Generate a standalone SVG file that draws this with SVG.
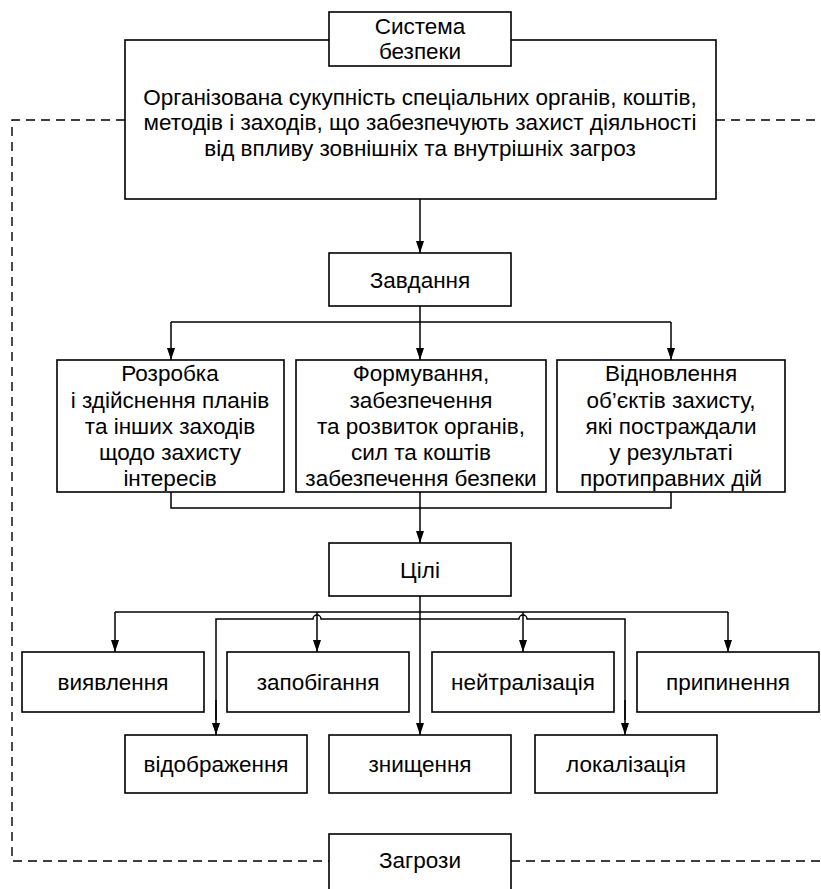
<svg xmlns="http://www.w3.org/2000/svg" width="821" height="889" viewBox="0 0 821 889">
<defs>
<marker id="arr" viewBox="0 0 12 8" refX="12" refY="4" markerWidth="12" markerHeight="8" markerUnits="userSpaceOnUse" orient="auto">
<path d="M0,0 L12,4 L0,8 z" fill="#000"/>
</marker>
</defs>
<style>
.box{fill:#fff;stroke:#000;stroke-width:1.6}
.t{font-family:"Liberation Sans",Arial,sans-serif;font-size:22.5px;fill:#000;text-anchor:middle}
.ln{fill:none;stroke:#000;stroke-width:1.5}
.ar{fill:none;stroke:#000;stroke-width:1.5;marker-end:url(#arr)}
.ds{fill:none;stroke:#000;stroke-width:1.4;stroke-dasharray:9 6}
</style>
<rect width="821" height="889" fill="#fff"/>
<g id="connectors">
<path class="ds" d="M125,120 H12 V861 H329"/>
<path class="ds" d="M716,120 H821"/>
<path class="ds" d="M511,861 H821"/>
<path class="ar" d="M420,199 V253"/>
<path class="ln" d="M420,306 V322 M171,322 H671"/>
<path class="ar" d="M171,322 V360"/>
<path class="ar" d="M420,322 V360"/>
<path class="ar" d="M671,322 V360"/>
<path class="ln" d="M171,492 V508 H671 V492"/>
<path class="ar" d="M420,492 V543"/>
<path class="ln" d="M115,612 H728"/>
<path class="ar" d="M115,612 V652"/>
<path class="ar" d="M317,612 V652"/>
<path class="ar" d="M523,612 V652"/>
<path class="ar" d="M728,612 V652"/>
<path class="ar" d="M420,596 V735"/>
<path class="ln" d="M216,720 V619 H313 A4,4 0 0 1 321,619 H519 A4,4 0 0 1 527,619 H625 V720"/>
<path class="ar" d="M216,700 V735"/>
<path class="ar" d="M625,700 V735"/>
</g>
<g id="main">
<rect class="box" x="125" y="40" width="591" height="159"/>
<text class="t" x="420" y="105">Організована сукупність спеціальних органів, коштів,</text>
<text class="t" x="420" y="130">методів і заходів, що забезпечують захист діяльності</text>
<text class="t" x="420" y="156">від впливу зовнішніх та внутрішніх загроз</text>
</g>
<g id="system">
<rect class="box" x="329" y="12" width="182" height="54"/>
<text class="t" x="420" y="34">Система</text>
<text class="t" x="420" y="59">безпеки</text>
</g>
<g id="tasks">
<rect class="box" x="329" y="253" width="182" height="53"/>
<text class="t" x="420" y="288">Завдання</text>
</g>
<g id="task1">
<rect class="box" x="57" y="360" width="227" height="132"/>
<text class="t" x="170" y="381">Розробка</text>
<text class="t" x="170" y="408">і здійснення планів</text>
<text class="t" x="170" y="434">та інших заходів</text>
<text class="t" x="170" y="460">щодо захисту</text>
<text class="t" x="170" y="486">інтересів</text>
</g>
<g id="task2">
<rect class="box" x="296" y="360" width="250" height="132"/>
<text class="t" x="421" y="381">Формування,</text>
<text class="t" x="421" y="408">забезпечення</text>
<text class="t" x="421" y="434">та розвиток органів,</text>
<text class="t" x="421" y="460">сил та коштів</text>
<text class="t" x="421" y="486">забезпечення безпеки</text>
</g>
<g id="task3">
<rect class="box" x="557" y="360" width="228" height="132"/>
<text class="t" x="671" y="381">Відновлення</text>
<text class="t" x="671" y="408">об’єктів захисту,</text>
<text class="t" x="671" y="434">які постраждали</text>
<text class="t" x="671" y="460">у результаті</text>
<text class="t" x="671" y="486">протиправних дій</text>
</g>
<g id="goals">
<rect class="box" x="329" y="543" width="182" height="53"/>
<text class="t" x="420" y="578">Цілі</text>
</g>
<g id="g1"><rect class="box" x="22" y="652" width="182" height="60"/><text class="t" x="113" y="690">виявлення</text></g>
<g id="g2"><rect class="box" x="227" y="652" width="182" height="60"/><text class="t" x="318" y="690">запобігання</text></g>
<g id="g3"><rect class="box" x="432" y="652" width="182" height="60"/><text class="t" x="523" y="690">нейтралізація</text></g>
<g id="g4"><rect class="box" x="637" y="652" width="182" height="60"/><text class="t" x="728" y="690">припинення</text></g>
<g id="g5"><rect class="box" x="125" y="735" width="182" height="58"/><text class="t" x="216" y="772">відображення</text></g>
<g id="g6"><rect class="box" x="329" y="735" width="182" height="58"/><text class="t" x="420" y="772">знищення</text></g>
<g id="g7"><rect class="box" x="535" y="735" width="182" height="58"/><text class="t" x="626" y="772">локалізація</text></g>
<g id="threats">
<rect class="box" x="329" y="834" width="182" height="60"/>
<text class="t" x="420" y="868">Загрози</text>
</g>
</svg>
